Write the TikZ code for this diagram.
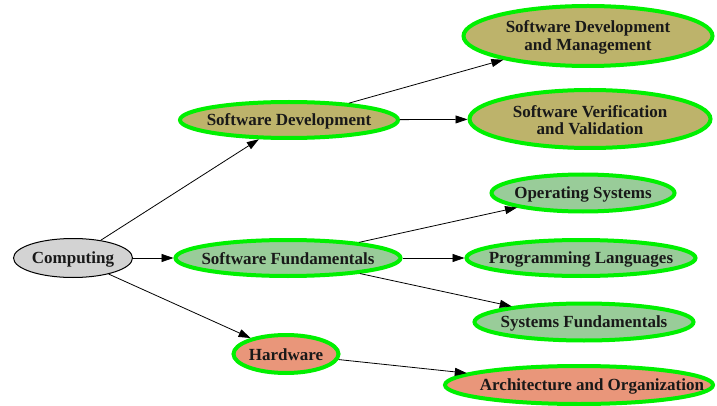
\documentclass[tikz,border=0pt]{standalone}
\usepackage{fontspec}
\setmainfont{Liberation Serif}
\usetikzlibrary{shapes.geometric,arrows.meta}
\definecolor{khakifill}{HTML}{BDB36B}
\definecolor{greenfill}{HTML}{99CC99}
\definecolor{salmonfill}{HTML}{E9967A}
\definecolor{grayfill}{HTML}{D3D3D3}
\definecolor{rim}{HTML}{00F000}
\tikzset{
  ell/.style={ellipse, inner sep=0pt},
  topic/.style={ell, draw=rim, line width=4pt},
  root/.style={ell, draw=black, line width=1pt, fill=grayfill},
  lbl/.style={font=\fontsize{17}{17.5}\selectfont\bfseries, align=center, text=black!90},
  edge/.style={draw=black, line width=0.8pt, -{Triangle[length=12pt,width=8pt]}}
}
\begin{document}
\begin{tikzpicture}[x=1pt,y=-1pt]
\useasboundingbox (0,0) rectangle (717,406);
\node[root, minimum width=119pt, minimum height=39pt] (comp) at (73,258) {};
\node[lbl] at ([yshift=-1pt]comp.center) {Computing};
\node[topic, fill=khakifill, minimum width=218pt, minimum height=36pt] (sd) at (289,120) {};
\node[lbl] at ([yshift=-1pt]sd.center) {Software Development};
\node[topic, fill=khakifill, minimum width=249pt, minimum height=60pt] (sdm) at (588,36) {};
\node[lbl] at ([yshift=-1.5pt]sdm.center) {Software Development\\and Management};
\node[topic, fill=khakifill, minimum width=241pt, minimum height=58pt] (svv) at (590,119) {};
\node[lbl] at ([yshift=-1pt]svv.center) {Software Verification\\and Validation};
\node[topic, fill=greenfill, minimum width=225pt, minimum height=36pt] (sf) at (288,258) {};
\node[lbl] at ([yshift=-1pt]sf.center) {Software Fundamentals};
\node[topic, fill=greenfill, minimum width=183pt, minimum height=37pt] (os) at (583,193) {};
\node[lbl] at ([yshift=-1pt]os.center) {Operating Systems};
\node[topic, fill=greenfill, minimum width=229pt, minimum height=36pt] (pl) at (581,258) {};
\node[lbl] at ([yshift=-1pt]pl.center) {Programming Languages};
\node[topic, fill=greenfill, minimum width=219pt, minimum height=37pt] (sysf) at (584,322) {};
\node[lbl] at ([yshift=-1pt]sysf.center) {Systems Fundamentals};
\node[topic, fill=salmonfill, minimum width=105pt, minimum height=38pt] (hw) at (286,354) {};
\node[lbl] at ([yshift=-1pt]hw.center) {Hardware};
\node[topic, fill=salmonfill, minimum width=268pt, minimum height=38pt] (ao) at (579,385) {};
\node[lbl] at ([xshift=13pt,yshift=-1pt]ao.center) {Architecture and Organization};
\draw[edge] (comp) -- (sd);
\draw[edge] (comp) -- (sf);
\draw[edge] (comp) -- (hw);
\draw[edge] (sd) -- (sdm);
\draw[edge] (sd) -- (svv);
\draw[edge] (sf) -- (os);
\draw[edge] (sf) -- (pl);
\draw[edge] (sf) -- (sysf);
\draw[edge] (hw) -- (ao);
\end{tikzpicture}
\end{document}
